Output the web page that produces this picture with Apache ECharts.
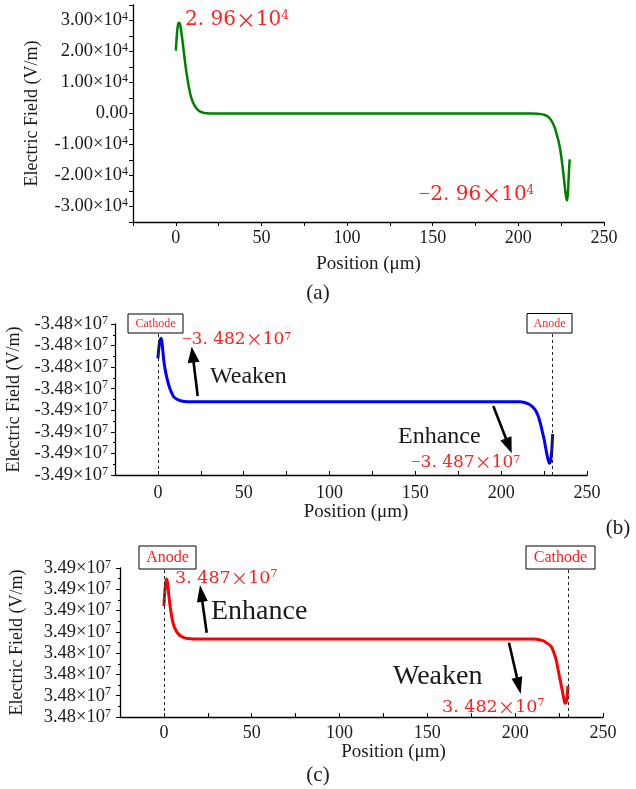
<!DOCTYPE html>
<html>
<head>
<meta charset="utf-8">
<script src="https://cdn.jsdelivr.net/npm/echarts@6/dist/echarts.min.js"></script>
<style>html,body{margin:0;padding:0;background:#fff}#c{width:636px;height:789px}</style>
</head>
<body>
<div id="c"></div>
<script>
// ---------------- DATA ----------------
// Panel (a): electric field perturbation (V/m) vs position (µm)
const xA = [0, 0.5, 1, 1.5, 2, 2.5, 3, 4, 5, 6, 7, 8, 9, 10, 11, 12, 13, 14, 16, 18, 20, 25, 50, 100, 150, 200, 208, 211, 213, 215, 217, 218.5, 220, 221.5, 222.5, 223.5, 224.5, 225.5, 226.5, 227.3, 227.9, 228.4, 228.9, 229.3, 229.7, 230];
const yA = [20300, 24500, 27600, 29100, 29300, 28700, 27000, 23000, 18300, 14000, 10500, 7400, 5100, 3600, 2500, 1700, 1100, 650, 250, 90, 30, 0, 0, 0, 0, 0, -30, -100, -200, -420, -900, -1700, -3000, -5000, -6900, -9000, -11800, -15800, -20500, -24500, -27000, -28000, -26000, -21500, -17000, -14800];

// Panel (b): total field (V/m), cathode at 0, anode at 230
const xB = [0, 0.5, 1, 1.5, 1.9, 2.5, 3.4, 4.3, 5.3, 6.3, 7.3, 8.3, 9.2, 10.5, 12.1, 14.5, 17, 25, 50, 100, 150, 200, 211, 213.5, 216, 218, 219.9, 221.5, 222.8, 224, 225.1, 226, 226.7, 227.5, 228.2, 228.8, 229.4, 230];
const yB = [-34825900, -34821500, -34818500, -34817000, -34816600, -34819500, -34826700, -34831500, -34835200, -34838300, -34840600, -34842400, -34843700, -34844600, -34845300, -34845800, -34846000, -34846000, -34846000, -34846000, -34846000, -34846000, -34846100, -34846400, -34847100, -34848200, -34849900, -34852500, -34856000, -34860000, -34863800, -34867800, -34870700, -34873300, -34874600, -34873300, -34869500, -34861000];

// Panel (c): total field (V/m), anode at 0, cathode at 230
const xC = [0, 0.5, 1, 1.6, 2.2, 2.9, 3.8, 4.8, 5.7, 6.7, 8, 9.5, 11.5, 13.5, 17, 25, 50, 100, 150, 200, 211, 215.7, 218, 220.5, 222, 223.3, 224.3, 225.2, 226.2, 227.1, 227.8, 228.4, 229, 229.6, 230];
const yC = [34862160, 34868500, 34873000, 34874800, 34872000, 34866500, 34860500, 34855600, 34852800, 34850900, 34849200, 34848100, 34847300, 34846900, 34846700, 34846670, 34846670, 34846670, 34846670, 34846670, 34846670, 34845870, 34844800, 34843050, 34840300, 34836810, 34832800, 34828970, 34825000, 34821170, 34818200, 34816480, 34816800, 34819580, 34824600];

// Electrode positions (µm)
const electrodeX = [0, 230];

// Tick labels
const xTickLabels = ['0', '50', '100', '150', '200', '250'];
const yTicksA = [-30000, -20000, -10000, 0, 10000, 20000, 30000];
const yTickTextA = ['-3.00', '-2.00', '-1.00', '0.00', '1.00', '2.00', '3.00'];
const yTicksB = [-34880000, -34870000, -34860000, -34850000, -34840000, -34830000, -34820000, -34810000];
const yTickTextB = ['-3.49', '-3.49', '-3.49', '-3.49', '-3.48', '-3.48', '-3.48', '-3.48'];
const yTicksC = [34810000, 34820000, 34830000, 34840000, 34850000, 34860000, 34870000, 34880000];
const yTickTextC = ['3.48', '3.48', '3.48', '3.48', '3.49', '3.49', '3.49', '3.49'];
const expA = '4', expBC = '7';

// ---------------- STYLE ----------------
const SERIF = '"Liberation Serif", "Times New Roman", serif';
const ANN = '"DejaVu Serif", serif';
const CJK = '"Noto Sans CJK SC", sans-serif';
const INK = '#1a1a1a';
const RED = '#ff1f1f';

const chart = echarts.init(document.getElementById('c'), null, {renderer: 'canvas'});

function tickRich(size) {
  return {
    b: {fontFamily: SERIF, fontSize: size, color: INK},
    s: {fontFamily: SERIF, fontSize: Math.round(size * 0.66), color: INK, verticalAlign: 'top'}
  };
}
function yFormatter(ticks, texts, exp) {
  return function (v) {
    let idx = -1;
    for (let i = 0; i < ticks.length; i++) if (Math.abs(ticks[i] - v) < 1) idx = i;
    if (idx < 0) return '';
    const t = texts[idx];
    if (t === '0.00') return '{b|0.00}';
    return '{b|' + t + '×10}{s|' + exp + '}';
  };
}
function xFormatter(v) {
  const i = xTickLabels.indexOf(String(Math.round(v)));
  return (i >= 0 && Math.abs(v - Math.round(v)) < 1e-6) ? xTickLabels[i] : '';
}

function xAxisCfg(grid, inside, margin, nameGap, namePadLeft) {
  return {
    type: 'value', gridIndex: grid, min: -25, max: 250, interval: 25,
    name: 'Position (μm)', nameLocation: 'middle', nameGap: nameGap,
    nameTextStyle: {fontFamily: SERIF, fontSize: 19, color: INK, padding: [0, 0, 0, namePadLeft]},
    axisLine: {onZero: false, lineStyle: {color: '#000', width: 1.3}},
    axisTick: {inside: inside, length: 4, lineStyle: {color: '#000', width: 1}},
    axisLabel: {formatter: xFormatter, fontFamily: SERIF, fontSize: 18, color: INK, margin: margin},
    splitLine: {show: false}
  };
}
function yAxisCfg(grid, min, max, interval, fmt, margin, nameGap, minor) {
  return {
    type: 'value', gridIndex: grid, min: min, max: max, interval: interval,
    name: 'Electric Field (V/m)', nameLocation: 'middle', nameGap: nameGap,
    nameTextStyle: {fontFamily: SERIF, fontSize: 18, color: INK},
    axisLine: {show: true, onZero: false, lineStyle: {color: '#000', width: 1.3}},
    axisTick: {show: true, inside: false, length: 4, lineStyle: {color: '#000', width: 1}},
    minorTick: {show: minor, splitNumber: 2, length: 2, lineStyle: {color: '#000', width: 1}},
    axisLabel: {formatter: fmt, rich: tickRich(18.5), margin: margin},
    splitLine: {show: false}
  };
}

// annotation helpers (layout only)
function annText(minus, mant, exp, x, y, size) {
  const sup = Math.round(size * 0.62);
  return {
    type: 'text', z: 100, x: x, y: y,
    style: {
      text: (minus ? '{m|−}' : '') + '{n|' + mant + '}{x|×}{n|10}{s|' + exp + '}',
      textVerticalAlign: 'middle', textAlign: 'left',
      rich: {
        m: {fontFamily: SERIF, fontSize: size, fill: RED},
        n: {fontFamily: ANN, fontSize: size, fill: RED},
        x: {fontFamily: CJK, fontSize: size, fill: RED},
        s: {fontFamily: ANN, fontSize: sup, fill: RED, verticalAlign: 'top'}
      }
    }
  };
}
function plainText(str, x, y, size, color, align) {
  return {
    type: 'text', z: 100, x: x, y: y,
    style: {text: str, fill: color, font: size + 'px ' + SERIF, textAlign: align || 'left', textVerticalAlign: 'middle'}
  };
}
function box(label, x, y, w, h, size) {
  return [
    {type: 'rect', z: 100, shape: {x: x, y: y, width: w, height: h}, style: {fill: '#fff', stroke: '#000', lineWidth: 1}},
    plainText(label, x + w / 2, y + h / 2 + 0.5, size, RED, 'center')
  ];
}
function arrow(sx, sy, tx, ty, L, W, lw) {
  const dx = tx - sx, dy = ty - sy, len = Math.sqrt(dx * dx + dy * dy);
  const ux = dx / len, uy = dy / len, nx = -uy, ny = ux;
  const bx = tx - ux * L, by = ty - uy * L;
  return [
    {type: 'line', z: 100, shape: {x1: sx, y1: sy, x2: bx + ux * 2, y2: by + uy * 2}, style: {stroke: '#000', lineWidth: lw}},
    {type: 'polygon', z: 100, shape: {points: [[tx, ty], [bx + nx * W, by + ny * W], [bx - nx * W, by - ny * W]]}, style: {fill: '#000'}}
  ];
}

const graphics = [].concat(
  // panel (a)
  [annText(false, '2. 96', expA, 185, 20, 20), annText(true, '2. 96', expA, 419, 195, 20)],
  [plainText('(a)', 318, 293, 21, INK, 'center')],
  // panel (b)
  box('Cathode', 128, 314, 55, 19, 12), box('Anode', 527, 313.5, 45, 19.5, 12),
  [annText(true, '3. 482', expBC, 182, 340, 17)],
  [plainText('Weaken', 210, 377, 24, INK)],
  arrow(197.7, 396, 191.7, 346.7, 16, 6, 2.6),
  [plainText('Enhance', 398, 437, 24, INK)],
  arrow(493.3, 406, 511.7, 453.3, 16, 6, 2.6),
  [annText(true, '3. 487', expBC, 411, 463, 17)],
  [plainText('(b)', 618, 528, 21, INK, 'center')],
  // panel (c)
  box('Anode', 139, 546, 57, 23, 16), box('Cathode', 526, 546, 69, 23, 16),
  [annText(false, '3. 487', expBC, 175, 578, 17.5)],
  [plainText('Enhance', 211, 612, 28, INK)],
  arrow(206.7, 632.7, 200, 585, 17, 5.5, 2.6),
  [plainText('Weaken', 393, 677, 28, INK)],
  arrow(509, 642.7, 520.7, 694, 17, 5.5, 2.6),
  [annText(false, '3. 482', expBC, 442, 707, 17.5)],
  [plainText('(c)', 318, 775, 21, INK, 'center')]
);

function pairs(xs, ys) { return xs.map((x, i) => [x, ys[i]]); }
function electrodeLines() {
  return {
    silent: true, symbol: ['none', 'none'], label: {show: false},
    lineStyle: {type: [3, 3], color: '#222', width: 1},
    data: electrodeX.map(v => ({xAxis: v}))
  };
}

const option = {
  animation: false,
  backgroundColor: '#fff',
  grid: [
    {left: 133, top: 5, width: 471, height: 217, outerBoundsMode: 'none'},
    {left: 115, top: 324, width: 472, height: 151, outerBoundsMode: 'none'},
    {left: 120, top: 568, width: 483, height: 149, outerBoundsMode: 'none'}
  ],
  xAxis: [
    xAxisCfg(0, false, 7, 33, 0),
    xAxisCfg(1, true, 9, 17, 10),
    xAxisCfg(2, true, 7, 16, 64)
  ],
  yAxis: [
    yAxisCfg(0, -35000, 35000, 5000, yFormatter(yTicksA, yTickTextA, expA), 5, 92, false),
    yAxisCfg(1, -34880000, -34810000, 10000, yFormatter(yTicksB, yTickTextB, expBC), 7, 91, true),
    yAxisCfg(2, 34810000, 34880000, 10000, yFormatter(yTicksC, yTickTextC, expBC), 9, 94, true)
  ],
  series: [
    {type: 'line', xAxisIndex: 0, yAxisIndex: 0, data: pairs(xA, yA), symbol: 'none', smooth: 0.3,
     lineStyle: {color: '#008000', width: 2.5}},
    {type: 'line', xAxisIndex: 1, yAxisIndex: 1, data: pairs(xB, yB), symbol: 'none', smooth: 0.3,
     lineStyle: {color: '#0000ff', width: 3}, markLine: electrodeLines()},
    {type: 'line', xAxisIndex: 2, yAxisIndex: 2, data: pairs(xC, yC), symbol: 'none', smooth: 0.3,
     lineStyle: {color: '#ff0000', width: 3}, markLine: electrodeLines()}
  ],
  graphic: graphics
};
chart.setOption(option);
</script>
</body>
</html>
